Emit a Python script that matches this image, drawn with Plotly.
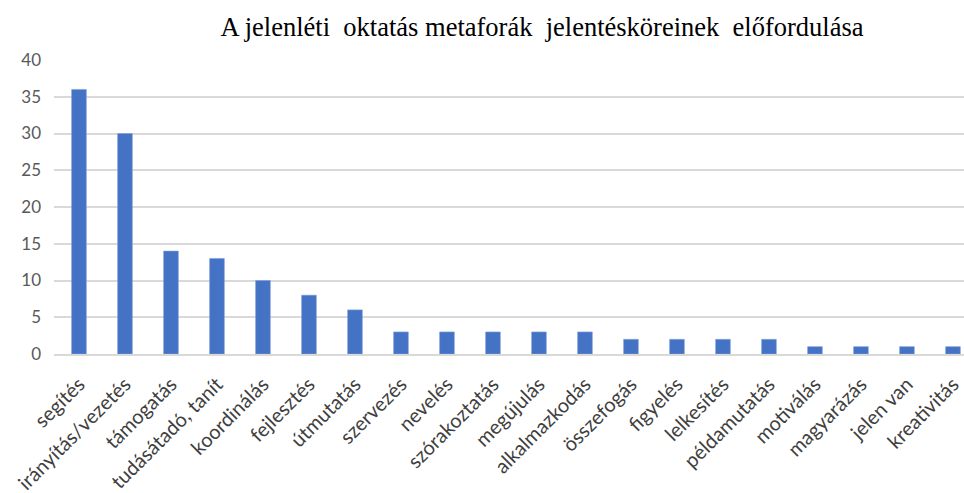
import plotly.graph_objects as go

# Meaning categories of the in-person teaching metaphors and how often each occurs
categories = [
    "segítés", "irányítás/vezetés", "támogatás", "tudásátadó, tanít",
    "koordinálás", "fejlesztés", "útmutatás", "szervezés", "nevelés",
    "szórakoztatás", "megújulás", "alkalmazkodás", "összefogás", "figyelés",
    "lelkesítés", "példamutatás", "motiválás", "magyarázás", "jelen van",
    "kreativitás",
]
counts = [36, 30, 14, 13, 10, 8, 6, 3, 3, 3, 3, 3, 2, 2, 2, 2, 1, 1, 1, 1]
y_ticks = [0, 5, 10, 15, 20, 25, 30, 35, 40]

title_text = ("A jelenléti\u00a0 oktatás metaforák\u00a0 jelentésköreinek"
              "\u00a0 előfordulása")

fig = go.Figure(
    go.Bar(
        x=categories,
        y=counts,
        marker=dict(color="#4472C4", line=dict(color="#7f9fd8", width=0.6)),
        hoverinfo="x+y",
    )
)

fig.update_layout(
    width=964,
    height=493,
    margin=dict(l=54, r=0, t=60, b=139),
    paper_bgcolor="white",
    plot_bgcolor="white",
    bargap=0.68,
    showlegend=False,
    title=dict(
        text=title_text,
        x=542 / 964,
        xanchor="center",
        y=1 - 27 / 493,
        yanchor="middle",
        font=dict(family="Liberation Serif", size=26.5, color="#000000"),
    ),
)

fig.update_xaxes(
    type="category",
    range=[-0.543, 19.24],
    tickangle=-45,
    tickfont=dict(family="Lato", size=20, color="#404040"),
    showgrid=False,
    showline=True,
    linecolor="#d9d9d9",
    linewidth=1.5,
    ticks="",
    zeroline=False,
    ticklabelstandoff=9,
    automargin=False,
)

fig.update_yaxes(
    range=[0, 40],
    tickvals=y_ticks,
    tickfont=dict(family="Lato", size=17, color="#595959"),
    showgrid=True,
    gridcolor="#d9d9d9",
    gridwidth=1.5,
    zeroline=False,
    showline=False,
    ticks="",
    ticklabelstandoff=12,
    automargin=False,
)

fig.write_html("out.html")
